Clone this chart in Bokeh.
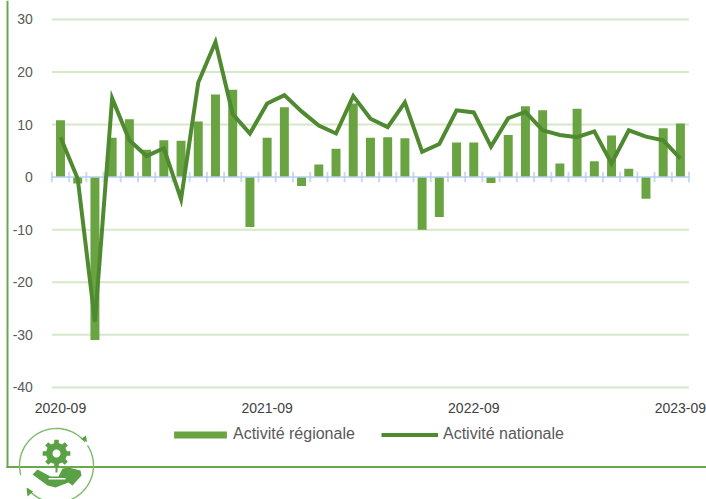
import math
from bokeh.plotting import figure
from bokeh.models import Range1d, FixedTicker, Legend, LegendItem, LinearAxis
from bokeh.embed import file_html
from bokeh.resources import INLINE

months = ["2020-09","2020-10","2020-11","2020-12","2021-01","2021-02","2021-03","2021-04","2021-05","2021-06","2021-07","2021-08",
          "2021-09","2021-10","2021-11","2021-12","2022-01","2022-02","2022-03","2022-04","2022-05","2022-06","2022-07","2022-08",
          "2022-09","2022-10","2022-11","2022-12","2023-01","2023-02","2023-03","2023-04","2023-05","2023-06","2023-07","2023-08","2023-09"]
regionale = [10.8,-1.2,-31,7.5,11,5.2,7,6.9,10.6,15.7,16.6,-9.5,7.5,13.3,-1.7,2.4,5.4,14,7.5,7.6,7.4,-10,-7.6,6.6,6.6,-1.1,8,13.5,12.7,2.6,13,3,7.9,1.6,-4.1,9.3,10.2]
nationale = [7.6,-0.3,-27.5,15,7,4,5.5,-4.2,18,25.7,12,8.3,14,15.6,12.5,9.8,8.3,15.4,11.1,9.5,14.2,4.8,6.3,12.7,12.3,5.8,11.2,12.4,8.9,8,7.6,8.7,2.6,8.9,7.7,7,3.5]
y_ticks = [-40,-30,-20,-10,0,10,20,30]
x_tick_labels = ["2020-09","2021-09","2022-09","2023-09"]

W, H = 706, 499
X0, DX = 60.0, 17.22      # pixel of the first category, pixels per category
Y0, DY = 176.6, 5.257     # pixel of zero, pixels per unit
def fx(px): return (px - X0) / DX
def fy(py): return (Y0 - py) / DY

x = list(range(len(months)))
p = figure(width=W, height=H, output_backend="svg", toolbar_location=None,
           x_range=Range1d(fx(0), fx(W)), y_range=Range1d(fy(H), fy(0)),
           x_axis_type=None, y_axis_type=None,
           min_border=0, min_border_left=0, min_border_right=0, min_border_top=0, min_border_bottom=0)
p.outline_line_color = None
p.grid.visible = False

yax = LinearAxis(fixed_location=-0.5, ticker=FixedTicker(ticks=y_ticks),
                 major_label_overrides={t: str(t) for t in y_ticks})
xax = LinearAxis(fixed_location=-40, ticker=FixedTicker(ticks=[months.index(m) for m in x_tick_labels]),
                 major_label_overrides={months.index(m): m for m in x_tick_labels})
for ax, col, standoff in ((yax, "#595959", 13), (xax, "#404040", 10)):
    ax.axis_line_color = None
    ax.major_tick_line_color = None
    ax.minor_tick_line_color = None
    ax.major_label_text_color = col
    ax.major_label_text_font = "Liberation Sans"
    ax.major_label_text_font_size = "14px"
    ax.major_label_standoff = standoff
p.add_layout(yax, "left")
p.add_layout(xax, "below")

grid_ys = [t for t in y_ticks if t != 0]
p.segment(x0=[-0.5]*len(grid_ys), x1=[36.5]*len(grid_ys), y0=grid_ys, y1=grid_ys, line_color="#d5e8c8", line_width=2)

bars = p.vbar(x=x, top=regionale, bottom=0, width=0.52, fill_color="#6aa342", line_color=None)
p.segment(x0=[-0.5], x1=[36.5], y0=[0], y1=[0], line_color="#b4cfee", line_width=2, line_alpha=0.75)
edges = [i - 0.5 for i in range(len(months) + 1)]
p.segment(x0=edges, x1=edges, y0=[-1.0]*len(edges), y1=[1.0]*len(edges), line_color="#b4cfee", line_width=2, line_alpha=0.75)
line = p.line(x=x, y=nationale, line_color="#4f8a31", line_width=4, line_join="miter")

common = dict(orientation="horizontal", padding=0, margin=0, glyph_height=9,
              label_text_font="Liberation Sans", label_text_font_size="16px", label_text_color="#595959",
              border_line_color=None, background_fill_color=None, background_fill_alpha=0)
p.add_layout(Legend(items=[LegendItem(label="Activité régionale", renderers=[bars])],
                    location=(167, H - 443), glyph_width=66, label_standoff=-1, **common), "center")
p.add_layout(Legend(items=[LegendItem(label="Activité nationale", renderers=[line])],
                    location=(381, H - 443), glyph_width=57, label_standoff=5, **common), "center")

def shape(xs, ys, color):
    p.patch([fx(v) for v in xs], [fy(v) for v in ys], fill_color=color, line_color=None)

FRAME = "#6aa84f"
shape([6, 8, 8, 6], [0, 0, 467.5, 467.5], FRAME)
shape([6, 706, 706, 6], [465.5, 465.5, 467.5, 467.5], FRAME)

RING = "#7dba6a"
ICON = "#5aa146"
cx, cy, r = 56, 465, 37
def arc(a0, a1):
    n = 40
    ang = [math.radians(a0 + (a1 - a0) * i / n) for i in range(n + 1)]
    xs = [cx + (r + .7) * math.cos(a) for a in ang] + [cx + (r - .7) * math.cos(a) for a in reversed(ang)]
    ys = [cy - (r + .7) * math.sin(a) for a in ang] + [cy - (r - .7) * math.sin(a) for a in reversed(ang)]
    shape(xs, ys, RING)
arc(40, 195)
arc(33, -141)
shape([86.5, 80.5, 85.5], [441.5, 438.5, 435], ICON)
shape([26, 32.5, 27], [487, 491, 496], ICON)

gx, gy = 56, 453
gxs, gys = [], []
for t in range(8):
    base = t * 45
    for da, rad in ((-22.5, 10.5), (-13, 10.5), (-9, 14), (9, 14), (13, 10.5)):
        a = math.radians(base + da)
        gxs.append(gx + rad * math.cos(a))
        gys.append(gy + rad * math.sin(a))
shape(gxs, gys, ICON)
hole = [math.radians(i * 10) for i in range(36)]
shape([gx + 4 * math.cos(a) for a in hole], [gy + 4 * math.sin(a) for a in hole], "#ffffff")
shape([55, 57, 57, 55], [462, 462, 472, 472], ICON)
shape([32, 37, 50, 58, 62, 68, 80, 81, 72, 68, 55, 47],
      [474, 469, 476, 476, 468, 467, 470, 475, 485, 482, 487, 485], ICON)
shape([48, 65, 65, 48], [477.5, 477.5, 479, 479], "#ffffff")

open("out.html", "w").write(file_html(p, INLINE))
